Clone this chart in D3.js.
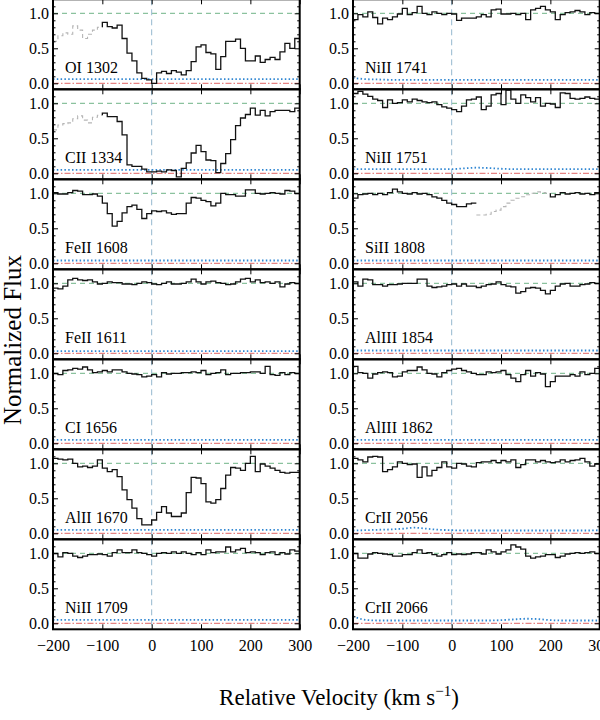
<!DOCTYPE html>
<html><head><meta charset="utf-8">
<script src="https://cdn.jsdelivr.net/npm/d3@7"></script>
<style>body{margin:0;background:#fff}svg{display:block}text{font-family:'Liberation Serif','DejaVu Serif',serif}</style>
</head><body><svg id="c" width="600" height="720"></svg>
<script>
// velocity bin left edges (km/s), bin width 10
const velocity = d3.range(-200, 300, 10);
const binWidth = 10;
const errVelocity = d3.range(-200, 301, 25);
const xTicks = [-200, -100, 0, 100, 200, 300];
const yTicks = [0, 0.5, 1.0];

const leftIons  = ["OI 1302", "CII 1334", "FeII 1608", "FeII 1611", "CI 1656", "AlII 1670", "NiII 1709"];
const rightIons = ["NiII 1741", "NiII 1751", "SiII 1808", "AlIII 1854", "AlIII 1862", "CrII 2056", "CrII 2066"];

const flux_OI1302 = [0.6,0.68,0.72,0.7,0.82,0.76,0.64,0.7,0.76,0.8,
 0.87,0.81,0.79,0.83,0.64,0.43,0.32,0.15,0.07,0.05,
 0.0,0.15,0.17,0.14,0.18,0.16,0.12,0.18,0.31,0.52,
 0.55,0.44,0.42,0.2,0.38,0.6,0.6,0.63,0.5,0.32,
 0.32,0.39,0.3,0.34,0.37,0.34,0.45,0.57,0.5,0.64];
const flux_CII1334 = [0.62,0.69,0.71,0.72,0.78,0.82,0.76,0.72,0.8,0.83,
 0.86,0.81,0.81,0.74,0.55,0.12,0.1,0.1,0.06,0.02,
 0.02,0.03,0.02,0.05,0.04,-0.05,0.07,0.15,0.29,0.4,
 0.31,0.19,0.18,0.01,0.14,0.28,0.48,0.68,0.79,0.84,
 0.93,0.83,0.9,0.82,0.88,0.9,0.9,0.9,0.88,0.93];
const flux_FeII1608 = [1.01,0.99,0.99,1.01,1.04,1.03,0.98,0.98,0.99,0.96,
 0.86,0.71,0.53,0.6,0.72,0.81,0.83,0.77,0.64,0.71,
 0.75,0.74,0.75,0.72,0.7,0.71,0.71,0.86,0.94,0.93,
 0.9,0.88,0.82,0.86,1.0,0.98,0.98,0.96,0.96,1.05,
 1.05,1.0,0.99,1.0,1.01,1.0,0.99,1.04,1.03,1.0];
const flux_FeII1611 = [0.93,0.92,0.96,1.05,1.07,1.05,1.04,1.05,1.02,0.99,
 1.0,1.02,1.01,1.01,0.99,0.99,0.98,1.0,1.02,1.01,
 0.99,0.98,1.0,1.02,0.99,0.99,1.0,1.02,1.06,1.02,
 0.99,1.02,1.03,1.01,1.0,0.98,0.99,1.02,1.06,1.07,
 1.02,1.05,1.01,1.02,1.0,1.02,0.95,0.99,1.01,1.0];
const flux_CI1656 = [1.0,0.98,1.04,1.05,1.07,1.06,1.09,1.05,1.01,1.02,
 1.04,1.02,1.05,1.05,1.02,1.0,0.99,0.98,0.95,0.96,
 0.98,0.95,1.01,0.99,1.0,1.0,1.01,1.01,1.02,1.01,
 1.04,0.98,1.0,1.01,1.05,0.98,1.0,1.0,1.01,1.01,
 1.02,1.02,1.0,1.1,0.98,0.97,1.01,0.98,1.01,1.0];
const flux_AlII1670 = [1.07,1.06,1.05,1.06,1.0,0.95,0.96,0.94,0.96,1.05,
 0.93,0.88,0.91,0.81,0.62,0.48,0.36,0.21,0.12,0.12,
 0.19,0.3,0.38,0.29,0.24,0.24,0.29,0.58,0.8,0.79,
 0.71,0.45,0.43,0.48,0.64,0.83,0.94,0.93,0.9,1.0,
 1.1,0.88,0.99,0.96,0.93,0.9,0.87,0.86,0.87,0.87];
const flux_NiII1709 = [1.0,0.95,1.01,1.0,0.96,0.94,0.96,0.98,0.98,0.99,
 0.98,0.96,1.01,1.05,1.01,1.01,1.05,1.01,1.0,0.98,
 0.96,1.0,1.01,1.0,1.02,1.0,1.02,1.0,0.98,1.01,
 0.98,1.05,1.01,1.02,1.02,1.09,1.02,1.05,1.07,1.01,
 1.02,1.01,0.98,1.01,1.02,0.98,1.01,0.99,1.05,1.03];
const flux_NiII1741 = [0.91,0.98,0.95,1.02,0.94,0.85,0.93,0.91,0.95,0.99,
 1.07,0.98,1.01,1.1,1.0,0.98,1.02,1.0,0.98,1.0,
 0.99,0.9,0.93,0.93,0.93,0.95,0.98,0.95,1.05,1.06,
 0.99,0.99,1.0,0.98,1.0,0.91,1.05,1.07,1.1,1.05,
 1.02,0.91,0.98,1.01,1.02,1.04,1.02,0.98,1.01,1.0];
const flux_NiII1751 = [1.14,1.17,1.13,1.1,1.06,1.04,0.94,1.05,1.0,1.01,
 1.05,1.02,1.06,1.04,1.02,1.01,1.02,0.98,0.95,0.93,
 0.91,0.88,0.96,1.05,1.06,1.09,0.91,0.96,1.12,1.14,
 0.98,1.19,1.06,1.0,1.12,1.08,1.02,1.08,0.96,1.0,
 0.99,0.94,1.15,1.14,1.07,1.06,1.07,1.09,1.07,1.06];
const flux_SiII1808 = [0.93,0.98,0.99,1.0,0.98,1.0,0.98,1.01,1.06,1.02,
 1.0,0.99,1.01,0.99,1.0,0.98,0.95,0.93,0.9,0.86,
 0.84,0.81,0.81,0.85,0.86,0.69,0.69,0.7,0.74,0.76,
 0.81,0.86,0.9,0.93,0.95,0.98,1.0,1.02,1.01,1.0,
 0.95,0.98,1.01,0.99,1.0,1.01,0.99,1.0,0.98,1.01];
const flux_AlIII1854 = [1.02,0.96,1.06,1.05,0.98,0.98,0.96,0.98,0.98,0.99,
 1.0,1.0,1.0,1.06,1.06,0.96,0.94,0.95,0.96,0.98,
 0.99,0.96,0.99,0.96,0.96,0.94,0.96,0.98,0.99,1.02,
 0.98,0.96,0.95,0.86,0.88,0.93,0.94,0.93,0.9,0.85,
 0.9,0.96,0.99,1.0,0.96,0.96,0.98,0.99,1.01,1.0];
const flux_AlIII1862 = [1.1,1.01,1.0,0.93,0.99,1.01,1.02,1.01,0.95,0.96,
 1.02,1.04,1.04,1.09,1.05,1.0,0.99,0.95,1.01,1.04,
 1.06,1.07,1.04,1.02,1.0,0.98,0.98,1.02,1.01,1.02,
 1.04,0.98,0.93,0.88,0.98,1.04,0.96,1.01,0.99,0.81,
 0.88,0.96,0.96,0.96,0.98,0.96,1.02,0.98,1.0,1.07];
const flux_CrII2056 = [1.07,1.05,1.02,1.09,1.1,1.09,0.88,0.91,0.95,1.02,
 1.0,0.98,0.99,0.8,0.95,0.82,0.9,0.94,1.02,0.95,
 0.93,1.0,0.99,0.96,0.95,1.01,1.02,1.02,1.04,1.01,
 1.04,1.02,1.05,0.94,0.98,1.05,1.05,1.02,1.04,1.02,
 1.01,1.02,1.05,1.02,1.04,1.05,1.07,1.02,0.96,0.99];
const flux_CrII2066 = [1.0,0.93,0.93,0.99,1.01,1.0,0.99,0.98,0.96,0.96,
 0.98,0.98,1.01,1.05,1.0,1.01,0.98,0.96,0.98,1.01,
 0.98,0.99,0.98,0.99,1.01,1.01,0.99,1.05,1.02,0.99,
 1.02,1.05,1.12,1.09,1.06,0.96,0.93,0.95,0.96,0.98,
 0.98,0.94,0.96,0.99,1.0,1.01,1.0,1.01,1.02,1.0];

// error spectra sampled every 25 km/s
const err_OI1302   = [0.06,0.06,0.06,0.06,0.06,0.06,0.06,0.06,0.06,0.06,0.06,0.06,0.06,0.06,0.06,0.06,0.06,0.06,0.06,0.06,0.06];
const err_CII1334  = [0.05,0.05,0.05,0.05,0.05,0.05,0.05,0.05,0.05,0.05,0.05,0.05,0.05,0.05,0.05,0.05,0.05,0.05,0.05,0.05,0.05];
const err_FeII1608 = [0.04,0.04,0.04,0.04,0.04,0.04,0.04,0.04,0.04,0.04,0.04,0.04,0.04,0.04,0.04,0.04,0.04,0.04,0.04,0.04,0.04];
const err_FeII1611 = [0.03,0.03,0.03,0.03,0.03,0.03,0.03,0.03,0.03,0.03,0.03,0.03,0.03,0.03,0.03,0.03,0.03,0.03,0.03,0.03,0.03];
const err_CI1656   = [0.05,0.05,0.05,0.05,0.05,0.05,0.05,0.05,0.05,0.05,0.05,0.05,0.05,0.05,0.05,0.05,0.05,0.05,0.05,0.05,0.05];
const err_AlII1670 = [0.05,0.05,0.05,0.05,0.05,0.05,0.05,0.05,0.05,0.05,0.05,0.05,0.05,0.05,0.05,0.05,0.05,0.05,0.05,0.05,0.05];
const err_NiII1709 = [0.05,0.05,0.05,0.05,0.05,0.05,0.05,0.05,0.05,0.05,0.05,0.05,0.05,0.05,0.05,0.05,0.05,0.05,0.05,0.05,0.05];
const err_NiII1741 = [0.075,0.06,0.055,0.05,0.05,0.05,0.05,0.05,0.05,0.05,0.05,0.05,0.05,0.05,0.05,0.05,0.05,0.05,0.05,0.05,0.05];
const err_NiII1751 = [0.06,0.06,0.06,0.06,0.06,0.06,0.06,0.06,0.06,0.07,0.08,0.075,0.065,0.06,0.06,0.06,0.06,0.06,0.06,0.06,0.06];
const err_SiII1808 = [0.04,0.04,0.04,0.04,0.04,0.04,0.04,0.04,0.04,0.04,0.04,0.04,0.04,0.04,0.04,0.04,0.04,0.04,0.04,0.04,0.04];
const err_AlIII1854= [0.04,0.04,0.04,0.04,0.04,0.04,0.04,0.04,0.04,0.04,0.04,0.04,0.04,0.04,0.04,0.04,0.04,0.04,0.04,0.04,0.04];
const err_AlIII1862= [0.05,0.05,0.05,0.05,0.05,0.05,0.05,0.05,0.05,0.05,0.05,0.05,0.05,0.05,0.05,0.05,0.05,0.05,0.05,0.05,0.05];
const err_CrII2056 = [0.04,0.045,0.05,0.055,0.065,0.08,0.065,0.05,0.045,0.04,0.04,0.04,0.04,0.04,0.04,0.04,0.04,0.04,0.04,0.04,0.045];
const err_CrII2066 = [0.1,0.05,0.04,0.04,0.04,0.04,0.04,0.04,0.04,0.04,0.04,0.04,0.045,0.055,0.065,0.06,0.045,0.04,0.04,0.04,0.04];

// velocity ranges where the line is blended (drawn grey dashed)
const blend_OI1302 = [-200, -100];
const blend_CII1334 = [-200, -100];
const blend_SiII1808 = [50, 200];

const leftFlux = [flux_OI1302, flux_CII1334, flux_FeII1608, flux_FeII1611, flux_CI1656, flux_AlII1670, flux_NiII1709];
const rightFlux = [flux_NiII1741, flux_NiII1751, flux_SiII1808, flux_AlIII1854, flux_AlIII1862, flux_CrII2056, flux_CrII2066];
const leftErr = [err_OI1302, err_CII1334, err_FeII1608, err_FeII1611, err_CI1656, err_AlII1670, err_NiII1709];
const rightErr = [err_NiII1741, err_NiII1751, err_SiII1808, err_AlIII1854, err_AlIII1862, err_CrII2056, err_CrII2066];
const leftBlend = [blend_OI1302, blend_CII1334, null, null, null, null, null];
const rightBlend = [null, null, blend_SiII1808, null, null, null, null];

const svg = d3.select("#c");
const FONT = "'Liberation Serif','DejaVu Serif',serif";
const cols = [
  {x0: 53, x1: 299.7, ions: leftIons, flux: leftFlux, err: leftErr, blend: leftBlend},
  {x0: 353, x1: 599.7, ions: rightIons, flux: rightFlux, err: rightErr, blend: rightBlend}
];
const panelH = 90, topOff = -0.7;

cols.forEach((col, ci) => {
  const x = d3.scaleLinear().domain([-200, 300]).range([col.x0, col.x1]);
  col.ions.forEach((ion, pi) => {
    const top = topOff + pi * panelH, bot = top + panelH;
    const y = d3.scaleLinear().domain([-0.0857, 1.2]).range([bot, top]);
    const g = svg.append("g");
    const clipId = `clip${ci}_${pi}`;
    svg.append("clipPath").attr("id", clipId).append("rect")
      .attr("x", col.x0).attr("y", top).attr("width", col.x1 - col.x0).attr("height", panelH);
    const pg = g.append("g").attr("clip-path", `url(#${clipId})`);

    // reference lines
    pg.append("line").attr("x1", col.x0).attr("x2", col.x1).attr("y1", y(1)).attr("y2", y(1))
      .attr("stroke", "#6fb386").attr("stroke-width", 1).attr("stroke-dasharray", "5,4");
    pg.append("line").attr("x1", col.x0).attr("x2", col.x1).attr("y1", y(0)).attr("y2", y(0))
      .attr("stroke", "#e06666").attr("stroke-width", 1).attr("stroke-dasharray", "6,2,1.5,2");
    pg.append("line").attr("x1", x(0)).attr("x2", x(0)).attr("y1", top).attr("y2", bot)
      .attr("stroke", "#95b8cf").attr("stroke-width", 1).attr("stroke-dasharray", "6,4");

    // error spectrum
    const errData = errVelocity.map((v, i) => [v, col.err[pi][i]]);
    pg.append("path").datum(errData)
      .attr("d", d3.line().x(d => x(d[0])).y(d => y(d[1])).curve(d3.curveMonotoneX))
      .attr("fill", "none").attr("stroke", "#2f86d2").attr("stroke-width", 1.8)
      .attr("stroke-dasharray", "1.5,2.3");

    // flux steps, split into blended / clean runs
    const fl = col.flux[pi], bl = col.blend[pi];
    const bins = velocity.map((v, i) => ({v0: v, v1: v + binWidth, f: fl[i],
      b: bl ? (v >= bl[0] && v < bl[1]) : false}));
    const runs = [];
    bins.forEach(d => {
      if (!runs.length || runs[runs.length - 1].b !== d.b) runs.push({b: d.b, pts: []});
      runs[runs.length - 1].pts.push(d);
    });
    const step = d3.line().x(d => x(d[0])).y(d => y(d[1])).curve(d3.curveStepAfter);
    runs.forEach((r, ri) => {
      const pts = r.pts.map(d => [d.v0, d.f]);
      const last = r.pts[r.pts.length - 1];
      pts.push([last.v1, last.f]);
      if (!r.b && ri > 0) {
        const prev = runs[ri - 1].pts[runs[ri - 1].pts.length - 1];
        pts.unshift([r.pts[0].v0, prev.f]);
      }
      pg.append("path").datum(pts).attr("d", step).attr("fill", "none")
        .attr("stroke", r.b ? "#b5b5b5" : "#111")
        .attr("stroke-width", r.b ? 1.1 : 1.3)
        .attr("stroke-dasharray", r.b ? "4,3" : null);
    });

    // axes (inward ticks)
    const yMinor = [0.1,0.2,0.3,0.4,0.6,0.7,0.8,0.9,1.1];
    g.append("g").attr("transform", `translate(${col.x0},0)`)
      .call(d3.axisLeft(y).tickValues(yTicks).tickSize(-5).tickPadding(4).tickFormat(d3.format(".1f")));
    g.append("g").attr("transform", `translate(${col.x0},0)`)
      .call(d3.axisLeft(y).tickValues(yMinor).tickSize(-2.5).tickFormat(""));
    g.append("g").attr("transform", `translate(${col.x1},0)`)
      .call(d3.axisRight(y).tickValues(yTicks).tickSize(-5).tickFormat(""));
    g.append("g").attr("transform", `translate(${col.x1},0)`)
      .call(d3.axisRight(y).tickValues(yMinor).tickSize(-2.5).tickFormat(""));
    g.append("g").attr("transform", `translate(0,${top})`)
      .call(d3.axisTop(x).tickValues(xTicks).tickSize(-5).tickFormat(""));
    const isBottom = pi === col.ions.length - 1;
    g.append("g").attr("transform", `translate(0,${bot})`)
      .call(d3.axisBottom(x).tickValues(xTicks).tickSize(-5).tickPadding(10)
        .tickFormat(isBottom ? d3.format("d") : ""));
    g.selectAll(".domain").remove();
    g.selectAll(".tick line").attr("stroke", "#000").attr("stroke-width", 1);
    g.selectAll(".tick text").style("font-family", FONT).style("font-size", "16px").attr("fill", "#000");

    // frame
    g.append("rect").attr("x", col.x0).attr("y", top).attr("width", col.x1 - col.x0).attr("height", panelH)
      .attr("fill", "none").attr("stroke", "#000").attr("stroke-width", 2);

    // label
    g.append("text").attr("x", col.x0 + 12).attr("y", y(0) - 10.5)
      .style("font-family", FONT).style("font-size", "16px").attr("fill", "#000").text(ion);
  });
});

// axis titles
const xt = svg.append("text").attr("x", 339).attr("y", 705).attr("text-anchor", "middle")
  .style("font-family", FONT).style("font-size", "23px").attr("fill", "#000");
xt.append("tspan").text("Relative Velocity  (km s");
xt.append("tspan").attr("dy", -9).style("font-size", "15px").text("\u22121");
xt.append("tspan").attr("dy", 9).text(")");
svg.append("text").attr("transform", "translate(21,340) rotate(-90)").attr("text-anchor", "middle")
  .style("font-family", FONT).style("font-size", "25px").attr("fill", "#000").text("Normalized Flux");
</script>
</body></html>
